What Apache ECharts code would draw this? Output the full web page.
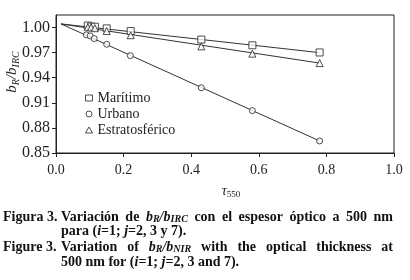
<!DOCTYPE html>
<html><head><meta charset="utf-8">
<script src="https://cdn.jsdelivr.net/npm/echarts@6/dist/echarts.min.js"></script>
<style>html,body{margin:0;padding:0;background:#fff}#c{width:410px;height:280px}</style>
</head><body><div id="c"></div>
<script>
// ---- data ----
const tauM = [0.094, 0.104, 0.115, 0.15, 0.221, 0.43, 0.581, 0.78];
const tauU = [0.090, 0.101, 0.113, 0.15, 0.22, 0.43, 0.581, 0.78];
const tauE = [0.094, 0.104, 0.115, 0.15, 0.221, 0.43, 0.581, 0.78];
const maritimo = [1.0024, 1.0012, 1.0010, 0.9990, 0.9958, 0.9856, 0.9788, 0.9702];
const urbano   = [0.9912, 0.9900, 0.9868, 0.9800, 0.9664, 0.9280, 0.9007, 0.8644];
const estrato  = [1.0004, 1.0002, 0.9992, 0.9958, 0.9908, 0.9775, 0.9688, 0.9575];
const fitX = [0.015, 0.78];
const fitMaritimo = [1.0043, 0.9700];
const fitUrbano   = [1.0043, 0.8644];
const fitEstrato  = [1.0043, 0.9575];
const seriesNames = ['Marítimo', 'Urbano', 'Estratosférico'];
const xTicks = [0.0, 0.2, 0.4, 0.6, 0.8, 1.0];
const yTicks = [0.85, 0.88, 0.91, 0.94, 0.97, 1.00];
const yMin = 0.85, yMax = 1.015, xMin = 0, xMax = 1;

const pairs = (xs, ys) => xs.map((x, i) => [x, ys[i]]);
const chart = echarts.init(document.getElementById('c'), null, {renderer: 'canvas'});
const SERIF = '"Liberation Serif", "DejaVu Serif", serif';

// ---- caption helper with justification ----
const mctx = document.createElement('canvas').getContext('2d');
const CAP = 14;
const capRich = {
  n: {fontFamily: SERIF, fontWeight: 'bold', fontSize: CAP, fill: '#111'},
  it: {fontFamily: SERIF, fontWeight: 'bold', fontStyle: 'italic', fontSize: CAP, fill: '#111'},
  sub: {fontFamily: SERIF, fontWeight: 'bold', fontStyle: 'italic', fontSize: CAP * 0.72, fill: '#111', verticalAlign: 'bottom', lineHeight: 9},
};
function segWidth(seg) {
  const st = capRich[seg[1]];
  mctx.font = (st.fontStyle ? 'italic ' : '') + 'bold ' + st.fontSize + 'px ' + SERIF;
  return mctx.measureText(seg[0]).width;
}
function richStr(segs) { return segs.map(s => '{' + s[1] + '|' + s[0] + '}').join(''); }
function captionLine(words, x0, x1, y, justify) {
  const ws = words.map(w => w.reduce((a, s) => a + segWidth(s), 0));
  const total = ws.reduce((a, b) => a + b, 0);
  const sp = justify ? (x1 - x0 - total) / (words.length - 1) : segWidth([' ', 'n']);
  let x = x0; const out = [];
  words.forEach((w, i) => {
    out.push({type: 'text', x: x, y: y, style: {text: richStr(w), rich: capRich, verticalAlign: 'middle'}});
    x += ws[i] + sp;
  });
  return out;
}
const W = (t) => [[t, 'n']];
const cap1 = [W('Variación'), W('de'), [['b', 'it'], ['R', 'sub'], ['/', 'it'], ['b', 'it'], ['IRC', 'sub']], W('con'), W('el'), W('espesor'), W('óptico'), W('a'), W('500'), W('nm')];
const cap2 = [W('para'), [['(', 'n'], ['i', 'it'], ['=1;', 'n']], [['j', 'it'], ['=2,', 'n']], W('3'), W('y'), W('7).')];
const cap3 = [W('Variation'), W('of'), [['b', 'it'], ['R', 'sub'], ['/', 'it'], ['b', 'it'], ['NIR', 'sub']], W('with'), W('the'), W('optical'), W('thickness'), W('at')];
const cap4 = [W('500'), W('nm'), W('for'), [['(', 'n'], ['i', 'it'], ['=1;', 'n']], [['j', 'it'], ['=2,', 'n']], W('3'), W('and'), W('7).')];

const graphics = [].concat(
  [{type: 'text', x: 3, y: 217, style: {text: 'Figura 3.', font: 'bold ' + CAP + 'px ' + SERIF, fill: '#111', verticalAlign: 'middle'}}],
  captionLine(cap1, 61, 393, 217, true),
  captionLine(cap2, 61, 393, 231, false),
  [{type: 'text', x: 3, y: 247, style: {text: 'Figure 3.', font: 'bold ' + CAP + 'px ' + SERIF, fill: '#111', verticalAlign: 'middle'}}],
  captionLine(cap3, 61, 393, 247, true),
  captionLine(cap4, 61, 393, 262, false),
  [
    // y axis title
    {type: 'text', x: 12, y: 72, rotation: Math.PI / 2,
     style: {text: '{b|b}{s|R}{b|/b}{s|IRC}', align: 'center', verticalAlign: 'middle',
       rich: {
         b: {fontFamily: SERIF, fontStyle: 'italic', fontSize: 15, fill: '#222', lineHeight: 18},
         s: {fontFamily: SERIF, fontStyle: 'italic', fontSize: 10, fill: '#222', verticalAlign: 'bottom', lineHeight: 10}
       }}},
    // x axis title
    {type: 'text', x: 231, y: 191,
     style: {text: '{t|τ}{s|550}', align: 'center', verticalAlign: 'middle',
       rich: {
         t: {fontFamily: SERIF, fontStyle: 'italic', fontSize: 14, fill: '#222', lineHeight: 16},
         s: {fontFamily: SERIF, fontSize: 9, fill: '#222', verticalAlign: 'bottom', lineHeight: 9}
       }}}
  ]
);

const markerStyle = {color: '#fff', borderColor: '#222', borderWidth: 1};
const fitStyle = {color: '#333', width: 1};

chart.setOption({
  animation: false,
  backgroundColor: '#fff',
  grid: {left: 56, right: 16, top: 15, bottom: 127, show: true, borderColor: '#222', borderWidth: 1, backgroundColor: 'transparent'},
  xAxis: {
    type: 'value', min: xMin, max: xMax, interval: 0.2,
    axisLine: {show: true, lineStyle: {color: '#222', width: 1}},
    axisTick: {show: true, length: 4, inside: false, lineStyle: {color: '#222'}, customValues: xTicks},
    axisLabel: {customValues: xTicks, margin: 10, fontFamily: SERIF, fontSize: 14, color: '#222', formatter: v => v.toFixed(1)},
    splitLine: {show: false}
  },
  yAxis: {
    type: 'value', min: yMin, max: yMax,
    axisLine: {show: true, lineStyle: {color: '#222', width: 1}},
    axisTick: {show: true, length: 4, inside: false, lineStyle: {color: '#222'}, customValues: yTicks},
    axisLabel: {customValues: yTicks, margin: 6, fontFamily: SERIF, fontSize: 16, color: '#222', formatter: v => v.toFixed(2)},
    splitLine: {show: false}
  },
  legend: {
    orient: 'vertical', left: 80, top: 86, itemGap: 2, itemWidth: 7, itemHeight: 6,
    textStyle: {fontFamily: SERIF, fontSize: 14, color: '#222'},
    itemStyle: {color: '#fff', borderColor: '#222', borderWidth: 1},
    data: [
      {name: seriesNames[0], icon: 'rect', itemStyle: {color: '#fff', borderColor: '#222', borderWidth: 1}},
      {name: seriesNames[1], icon: 'circle', itemStyle: {color: '#fff', borderColor: '#222', borderWidth: 1}},
      {name: seriesNames[2], icon: 'triangle', itemStyle: {color: '#fff', borderColor: '#222', borderWidth: 1}}
    ]
  },
  series: [
    {name: 'fitM', type: 'line', data: pairs(fitX, fitMaritimo), symbol: 'none', lineStyle: fitStyle, silent: true, z: 1},
    {name: 'fitU', type: 'line', data: pairs(fitX, fitUrbano), symbol: 'none', lineStyle: fitStyle, silent: true, z: 1},
    {name: 'fitE', type: 'line', data: pairs(fitX, fitEstrato), symbol: 'none', lineStyle: fitStyle, silent: true, z: 1},
    {name: seriesNames[0], type: 'scatter', symbol: 'rect', symbolSize: 7, data: pairs(tauM, maritimo), itemStyle: markerStyle, z: 3},
    {name: seriesNames[1], type: 'scatter', symbol: 'circle', symbolSize: 6, data: pairs(tauU, urbano), itemStyle: markerStyle, z: 3},
    {name: seriesNames[2], type: 'scatter', symbol: 'triangle', symbolSize: 7, data: pairs(tauE, estrato), itemStyle: markerStyle, z: 3}
  ],
  graphic: graphics
});
</script></body></html>
